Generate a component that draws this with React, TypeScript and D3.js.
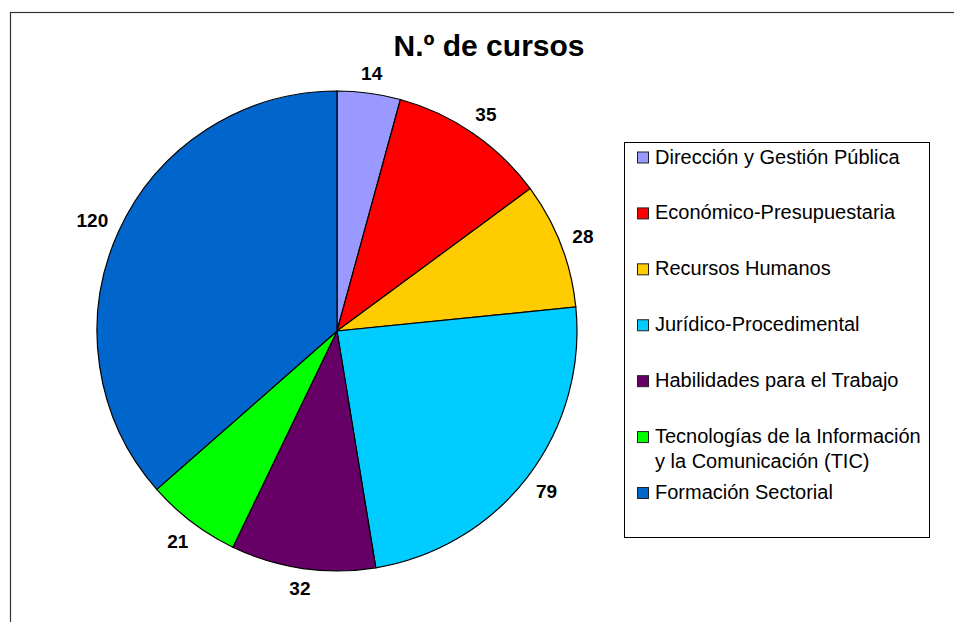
import React, { useEffect, useRef } from "react";
import * as d3 from "d3";

// N.º de cursos por área
const categories = [
  "Dirección y Gestión Pública",
  "Económico-Presupuestaria",
  "Recursos Humanos",
  "Jurídico-Procedimental",
  "Habilidades para el Trabajo",
  "Tecnologías de la Información y la Comunicación (TIC)",
  "Formación Sectorial",
];
const legendLines = [
  ["Dirección y Gestión Pública"],
  ["Económico-Presupuestaria"],
  ["Recursos Humanos"],
  ["Jurídico-Procedimental"],
  ["Habilidades para el Trabajo"],
  ["Tecnologías de la Información", "y la Comunicación (TIC)"],
  ["Formación Sectorial"],
];
const values = [14, 35, 28, 79, 32, 21, 120];
const colors = ["#9999FF", "#FF0000", "#FFCC00", "#00CCFF", "#660066", "#00FF00", "#0066CC"];
const title = "N.º de cursos";

export default function App() {
  const ref = useRef<SVGSVGElement | null>(null);

  useEffect(() => {
    const width = 954;
    const height = 622;
    const svg = d3.select(ref.current);
    svg.selectAll("*").remove();
    svg.attr("width", width).attr("height", height);

    const font = "'Liberation Sans', Arial, sans-serif";
    const labelSize = 19;

    // outer chart frame (runs off the right and bottom)
    svg
      .append("rect")
      .attr("x", 10.5)
      .attr("y", 12.5)
      .attr("width", 990)
      .attr("height", 700)
      .attr("fill", "#fff")
      .attr("stroke", "#333")
      .attr("stroke-width", 1.2);

    svg
      .append("text")
      .attr("x", 489)
      .attr("y", 56)
      .attr("text-anchor", "middle")
      .style("font", `bold 30px ${font}`)
      .attr("fill", "#000")
      .text(title);

    const cx = 337;
    const cy = 331;
    const R = 240;

    const pie = d3
      .pie<number>()
      .sort(null)
      .value((d) => d);
    const arcs = pie(values);
    const arc = d3.arc<d3.PieArcDatum<number>>().innerRadius(0).outerRadius(R);

    // label sits just outside the rim, pushed out by half its box
    const labelPos = (d: d3.PieArcDatum<number>) => {
      const a = (d.startAngle + d.endAngle) / 2;
      const s = Math.sin(a);
      const c = Math.cos(a);
      const hw = (String(d.data).length * 0.556 * labelSize) / 2;
      const hh = 7.5;
      const r = R + 11 + Math.abs(s) * hw + Math.abs(c) * hh;
      return [r * s, -r * c];
    };

    const g = svg.append("g").attr("transform", `translate(${cx},${cy})`);

    g.selectAll("path.slice")
      .data(arcs)
      .enter()
      .append("path")
      .attr("class", "slice")
      .attr("d", arc)
      .attr("fill", (d, i) => colors[i])
      .attr("stroke", "#000")
      .attr("stroke-width", 1.2);

    g.selectAll("text.lbl")
      .data(arcs)
      .enter()
      .append("text")
      .attr("class", "lbl")
      .attr("x", (d) => labelPos(d)[0])
      .attr("y", (d) => labelPos(d)[1])
      .attr("dy", "0.36em")
      .attr("text-anchor", "middle")
      .style("font", `bold ${labelSize}px ${font}`)
      .attr("fill", "#000")
      .text((d) => d.data);

    // legend
    const lx = 624.5;
    const ly = 142.5;
    svg
      .append("rect")
      .attr("x", lx)
      .attr("y", ly)
      .attr("width", 305)
      .attr("height", 395)
      .attr("fill", "#fff")
      .attr("stroke", "#000")
      .attr("stroke-width", 1);

    const rowY = d3
      .scaleLinear()
      .domain([0, categories.length - 1])
      .range([163.5, 499]);

    const items = svg
      .selectAll("g.item")
      .data(categories)
      .enter()
      .append("g")
      .attr("class", "item")
      .attr("transform", (d, i) => `translate(0,${rowY(i)})`);

    items
      .append("rect")
      .attr("x", 637.5)
      .attr("y", -11.5)
      .attr("width", 11)
      .attr("height", 11)
      .attr("fill", (d, i) => colors[i])
      .attr("stroke", "#222")
      .attr("stroke-width", 1);

    items.each(function (d, i) {
      const t = d3
        .select(this)
        .append("text")
        .attr("x", 655)
        .attr("y", 0)
        .style("font", `20px ${font}`)
        .attr("fill", "#000");
      legendLines[i].forEach((line, k) => {
        t.append("tspan")
          .attr("x", 655)
          .attr("dy", k === 0 ? 0 : 25)
          .text(line);
      });
    });
  }, []);

  return (
    <div style={{ position: "absolute", left: 0, top: 0 }}>
      <svg ref={ref} />
    </div>
  );
}
